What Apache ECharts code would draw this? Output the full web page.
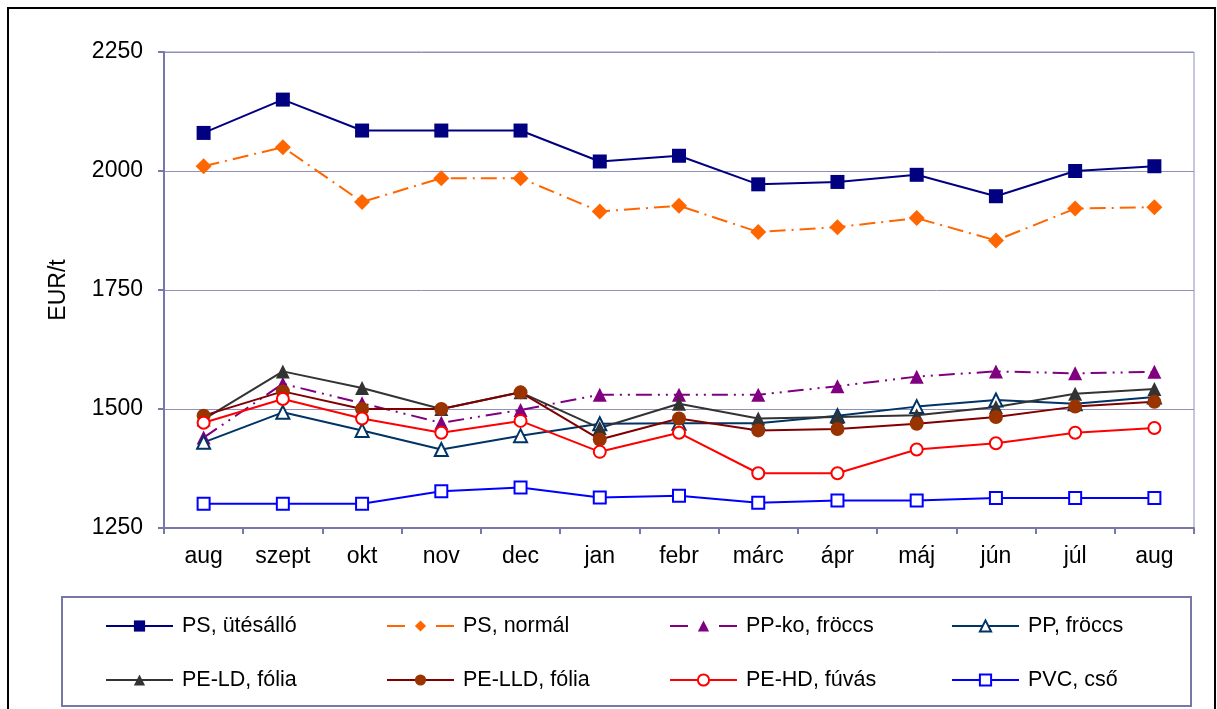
<!DOCTYPE html>
<html>
<head>
<meta charset="utf-8">
<script src="https://cdn.jsdelivr.net/npm/echarts@6/dist/echarts.min.js"></script>
<style>
  html, body { margin: 0; padding: 0; background: #fff; }
  #main { width: 1217px; height: 709px; }
</style>
</head>
<body>
<div id="main"></div>
<script>
// months on the category axis
var months = ['aug', 'szept', 'okt', 'nov', 'dec', 'jan', 'febr', 'márc', 'ápr', 'máj', 'jún', 'júl', 'aug']

// EUR/t values
var psUtesallo = [2080, 2150, 2085, 2085, 2085, 2020, 2032, 1972, 1977, 1992, 1947, 2000, 2010]
var psNormal = [2010, 2050, 1935, 1985, 1985, 1915, 1927, 1872, 1882, 1901, 1854, 1921, 1924]
var ppKoFroccs = [1440, 1553, 1512, 1471, 1498, 1530, 1530, 1530, 1548, 1568, 1579, 1575, 1578]
var ppFroccs = [1430, 1493, 1455, 1415, 1444, 1469, 1470, 1470, 1486, 1505, 1519, 1511, 1525]
var peLdFolia = [1478, 1579, 1544, 1500, 1535, 1460, 1511, 1480, 1483, 1487, 1504, 1532, 1542]
var peLldFolia = [1486, 1537, 1500, 1500, 1535, 1436, 1480, 1455, 1458, 1469, 1483, 1505, 1515]
var peHdFuvas = [1471, 1521, 1480, 1450, 1475, 1410, 1450, 1365, 1365, 1415, 1428, 1450, 1460]
var pvcCso = [1301, 1301, 1301, 1327, 1335, 1314, 1318, 1303, 1308, 1308, 1313, 1313, 1313]

var axisColor = '#7878a8'
var font = '"Liberation Sans", Arial, sans-serif'

function lineSeries (name, data, color, symbol, size, opts) {
  opts = opts || {}
  return {
    name: name,
    type: 'line',
    data: data,
    symbol: symbol,
    symbolSize: size,
    animation: false,
    lineStyle: { color: color, width: 2, type: opts.dash || 'solid', cap: 'butt' },
    itemStyle: opts.open
      ? { color: '#fff', borderColor: color, borderWidth: 2 }
      : { color: opts.markerColor || color }
  }
}

function legendCol (left, names) {
  return {
    orient: 'vertical',
    left: left,
    top: 615,
    padding: 0,
    itemWidth: 67,
    itemHeight: 14,
    itemGap: 32,
    data: names,
    textStyle: { fontFamily: font, fontSize: 21.5, lineHeight: 22, color: '#000', padding: [0, 0, 0, 4] }
  }
}

// dashed legend icons look like "— marker —"
var legendDash = { type: [18, 31], cap: 'butt' }

var myChart = echarts.init(document.getElementById('main'))
myChart.setOption({
  backgroundColor: '#fff',
  textStyle: { fontFamily: font },
  grid: {
    left: 164,
    right: 23,
    top: 52,
    bottom: 181,
    show: true,
    borderColor: '#9090b8',
    borderWidth: 1
  },
  legend: [
    legendCol(105, ['PS, ütésálló', 'PE-LD, fólia']),
    legendCol(386, [{ name: 'PS, normál', lineStyle: legendDash }, 'PE-LLD, fólia']),
    legendCol(669, [{ name: 'PP-ko, fröccs', lineStyle: legendDash }, 'PE-HD, fúvás']),
    legendCol(951, ['PP, fröccs', 'PVC, cső'])
  ],
  xAxis: {
    type: 'category',
    data: months,
    boundaryGap: true,
    axisLine: { lineStyle: { color: axisColor, width: 2 } },
    axisTick: { show: true, length: 6, lineStyle: { color: axisColor, width: 2 } },
    axisLabel: { color: '#000', fontSize: 23, margin: 17, fontFamily: font }
  },
  yAxis: {
    type: 'value',
    min: 1250,
    max: 2250,
    interval: 250,
    name: 'EUR/t',
    nameLocation: 'middle',
    nameRotate: 90,
    nameGap: 94,
    nameTextStyle: { color: '#000', fontSize: 23, fontFamily: font },
    axisLine: { show: true, lineStyle: { color: axisColor, width: 2 } },
    axisTick: { show: true, length: 6, lineStyle: { color: axisColor, width: 2 } },
    axisLabel: {
      color: '#000',
      fontSize: 23,
      margin: 21,
      fontFamily: font,
      formatter: function (v) { return String(v) }
    },
    splitLine: { lineStyle: { color: '#9090b8', width: 1 } }
  },
  graphic: [
    {
      type: 'rect',
      shape: { x: 8, y: 8, width: 1207, height: 720 },
      style: { fill: 'none', stroke: '#000', lineWidth: 2 },
      silent: true
    },
    {
      type: 'rect',
      shape: { x: 62, y: 597, width: 1129, height: 109 },
      style: { fill: 'none', stroke: axisColor, lineWidth: 2 },
      silent: true
    }
  ],
  series: [
    lineSeries('PS, ütésálló', psUtesallo, '#000080', 'rect', 14),
    lineSeries('PS, normál', psNormal, '#ff6600', 'diamond', 16, { dash: [16, 6, 2, 6] }),
    lineSeries('PP-ko, fröccs', ppKoFroccs, '#800080', 'triangle', 14, { dash: [16, 6, 2, 6, 2, 6] }),
    lineSeries('PP, fröccs', ppFroccs, '#003366', 'triangle', 13, { open: true }),
    lineSeries('PE-LD, fólia', peLdFolia, '#333333', 'triangle', 14),
    lineSeries('PE-LLD, fólia', peLldFolia, '#800000', 'circle', 14, { markerColor: '#993300' }),
    lineSeries('PE-HD, fúvás', peHdFuvas, '#ff0000', 'circle', 12, { open: true }),
    lineSeries('PVC, cső', pvcCso, '#0000ff', 'rect', 12, { open: true })
  ]
})
</script>
</body>
</html>
